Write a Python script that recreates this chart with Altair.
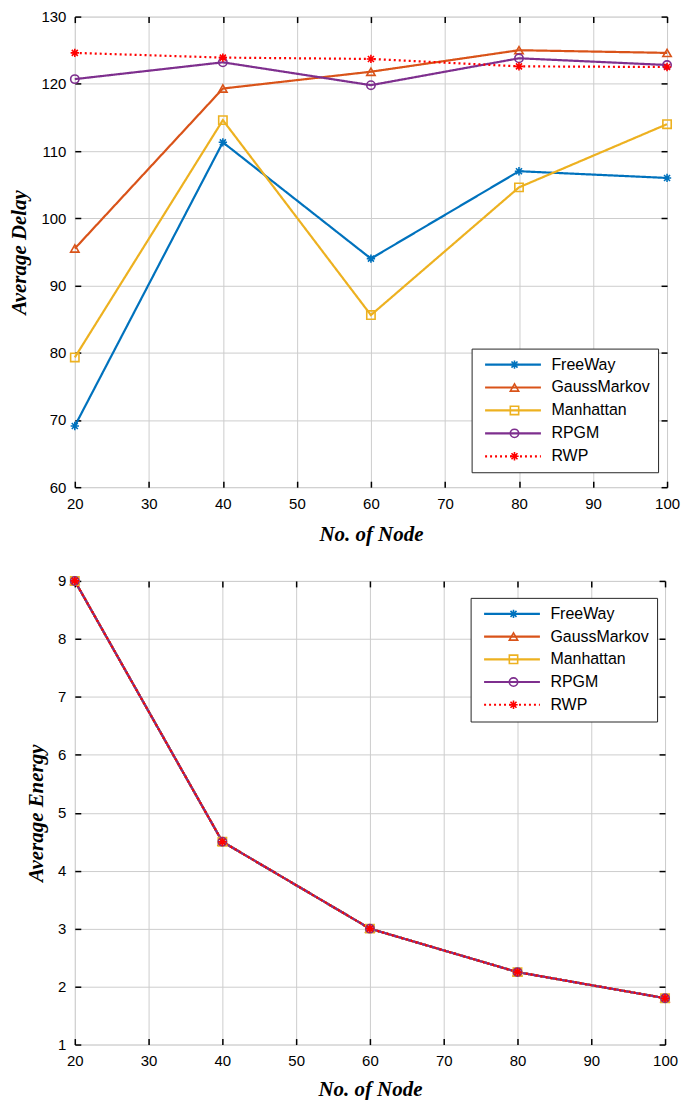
import altair as alt
import pandas as pd

nodes = [20, 40, 60, 80, 100]
series = ["FreeWay", "GaussMarkov", "Manhattan", "RPGM", "RWP"]

delay_freeway = [69.1, 111.3, 94.0, 107.0, 106.0]
delay_gauss = [95.5, 119.3, 121.8, 125.0, 124.6]
delay_manhattan = [79.3, 114.6, 85.6, 104.6, 114.0]
delay_rpgm = [120.7, 123.2, 119.8, 123.8, 122.8]
delay_rwp = [124.6, 123.9, 123.7, 122.6, 122.5]

energy_freeway = [9.0, 4.5, 3.0, 2.25, 1.8]
energy_gauss = [9.0, 4.5, 3.0, 2.25, 1.8]
energy_manhattan = [9.0, 4.5, 3.0, 2.25, 1.8]
energy_rpgm = [9.0, 4.5, 3.0, 2.25, 1.8]
energy_rwp = [9.0, 4.5, 3.0, 2.25, 1.8]

x_ticks = [20, 30, 40, 50, 60, 70, 80, 90, 100]
delay_ticks = [60, 70, 80, 90, 100, 110, 120, 130]
energy_ticks = [1, 2, 3, 4, 5, 6, 7, 8, 9]

colors = ["#0072BD", "#D95319", "#EDB120", "#7E2F8E", "#FF0000"]
ast = "M-1,0L1,0M0,-1L0,1M-0.72,-0.72L0.72,0.72M-0.72,0.72L0.72,-0.72"
shapes = [ast, "triangle-up", "square", "circle", ast]
dashes = [[1, 0], [1, 0], [1, 0], [1, 0], [2, 3]]
marker_widths = [1.6, 1.6, 1.6, 1.6, 3.2]


def long_df(cols):
    rows = []
    for s, vals in zip(series, cols):
        for n, v in zip(nodes, vals):
            rows.append({"node": n, "series": s, "value": v})
    return pd.DataFrame(rows)


delay_df = long_df([delay_freeway, delay_gauss, delay_manhattan, delay_rpgm, delay_rwp])
energy_df = long_df([energy_freeway, energy_gauss, energy_manhattan, energy_rpgm, energy_rwp])

TICK_FONT = "Liberation Sans"
TITLE_FONT = "Liberation Serif"
GRID = "#cdcdcd"


def panel(df, ytitle, ydomain, yticks, w, h, lx, ly, rowpad, xtitle_pad):
    xs = alt.Scale(domain=[20, 100], nice=False, zero=False)
    ys = alt.Scale(domain=ydomain, nice=False, zero=False)
    col_scale = alt.Scale(domain=series, range=colors)

    common_leg = dict(orient="none", title=None, labelFont=TICK_FONT, labelFontSize=16,
                      labelColor="black", padding=8, rowPadding=rowpad, clipHeight=16,
                      legendX=lx, legendY=ly)
    line_leg = alt.Legend(symbolType="stroke", symbolSize=3136, symbolStrokeWidth=2.2,
                          symbolOffset=4, labelOffset=9,
                          fillColor="white", strokeColor="#262626", **common_leg)
    point_leg = alt.Legend(symbolSize=70, symbolStrokeWidth=1.6, symbolOffset=27,
                           labelExpr="''", labelOffset=0, **common_leg)

    x_main = alt.Axis(values=x_ticks, title="No. of Node", titleFont=TITLE_FONT,
                      titleFontStyle="italic", titleFontWeight="bold", titleFontSize=21,
                      titleColor="black", titlePadding=xtitle_pad, labelFlush=False,
                      labelFont=TICK_FONT, labelFontSize=15, labelColor="black",
                      labelPadding=9, grid=True, gridColor=GRID, gridWidth=1,
                      domain=False, tickColor="black", tickWidth=1.5, tickSize=6, offset=-6)
    y_main = alt.Axis(values=yticks, title=ytitle, titleFont=TITLE_FONT,
                      titleFontStyle="italic", titleFontWeight="bold", titleFontSize=21,
                      titleColor="black", titlePadding=11, labelFlush=False,
                      labelFont=TICK_FONT, labelFontSize=15, labelColor="black",
                      labelPadding=9, grid=True, gridColor=GRID, gridWidth=1,
                      domain=False, tickColor="black", tickWidth=1.5, tickSize=6, offset=-6)
    x_top = alt.Axis(values=x_ticks, orient="top", title=None, labels=False, grid=False,
                     domain=False, tickColor="black", tickWidth=1.5, tickSize=6, offset=-6)
    y_right = alt.Axis(values=yticks, orient="right", title=None, labels=False, grid=False,
                       domain=False, tickColor="black", tickWidth=1.5, tickSize=6, offset=-6)

    base = alt.Chart(df)
    lines = base.mark_line(strokeWidth=2.2).encode(
        x=alt.X("node:Q", scale=xs, axis=x_main),
        y=alt.Y("value:Q", scale=ys, axis=y_main),
        color=alt.Color("series:N", scale=col_scale, sort=series, legend=line_leg),
        strokeDash=alt.StrokeDash("series:N", sort=series,
                                  scale=alt.Scale(domain=series, range=dashes),
                                  legend=line_leg),
        order=alt.Order("node:Q"),
    )
    points = base.mark_point(filled=False, size=70, opacity=1).encode(
        x=alt.X("node:Q", scale=xs, axis=None),
        y=alt.Y("value:Q", scale=ys, axis=None),
        color=alt.Color("series:N", scale=col_scale, sort=series, legend=point_leg),
        shape=alt.Shape("series:N", sort=series,
                        scale=alt.Scale(domain=series, range=shapes), legend=point_leg),
        strokeWidth=alt.StrokeWidth("series:N", sort=series,
                                    scale=alt.Scale(domain=series, range=marker_widths),
                                    legend=None),
    )
    frame = base.mark_point(opacity=0).encode(
        x=alt.X("node:Q", scale=xs, axis=x_top),
        y=alt.Y("value:Q", scale=ys, axis=y_right),
    )
    return alt.layer(lines, points, frame).resolve_axis(
        x="independent", y="independent"
    ).resolve_scale(
        color="independent", shape="independent", strokeDash="independent",
        strokeWidth="independent"
    ).resolve_legend(
        color="independent", shape="independent", strokeDash="independent"
    ).properties(width=w, height=h)


top = panel(delay_df, "Average Delay", [60, 130], delay_ticks, 594, 472, 398, 333, 7, 12)
bottom = panel(energy_df, "Average Energy", [1, 9], energy_ticks, 592, 465, 397, 17, 6.8, 10)

chart = alt.vconcat(top, bottom, spacing=28).resolve_scale(
    color="independent", shape="independent", strokeDash="independent",
    strokeWidth="independent"
).resolve_legend(
    color="independent", shape="independent", strokeDash="independent"
).properties(
    padding={"left": 0, "top": -1, "right": 0, "bottom": -2}
).configure_view(
    stroke="black", strokeWidth=2
).configure(background="white")

chart.save("out.html", embed_options={"renderer": "svg", "actions": False})
